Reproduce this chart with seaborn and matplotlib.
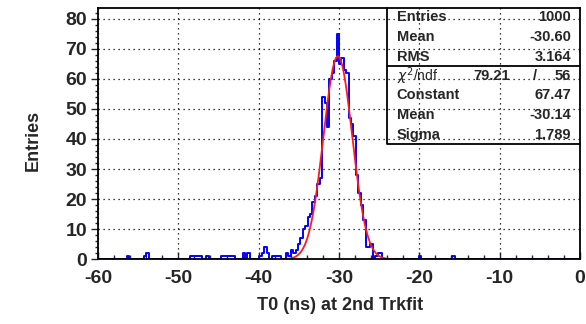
import matplotlib
matplotlib.use("Agg")
import matplotlib.pyplot as plt
import numpy as np
import pandas as pd
import seaborn as sns
from matplotlib.ticker import MultipleLocator

# histogram: 200 bins of 0.3 ns from -60 to 0, only filled bins listed (bin centres)
t0_centers = [
    -56.25, -54.15, -53.85, -48.45, -48.15, -47.85, -47.55, -47.25, -46.35,
    -44.55, -44.25, -43.95, -43.65, -43.35, -43.05, -41.85, -41.25,
    -39.75, -39.45, -39.15, -38.85, -38.25, -37.95, -37.65, -37.35,
    -36.45, -36.15, -35.85, -35.55, -35.25, -34.95, -34.65, -34.35, -34.05,
    -33.75, -33.45, -33.15, -32.85, -32.55, -32.25, -31.95, -31.65, -31.35,
    -31.05, -30.75, -30.45, -30.15, -29.85, -29.55, -29.25, -28.95, -28.65,
    -28.35, -28.05, -27.75, -27.45, -27.15, -26.85, -26.55, -26.25, -25.95,
    -25.35, -25.05, -24.75, -19.95, -15.75,
]
t0_counts = [
    1, 1, 2, 1, 1, 1, 1, 1, 1,
    1, 1, 1, 1, 1, 1, 2, 2,
    1, 2, 4, 2, 1, 1, 1, 1,
    2, 1, 3, 2, 3, 5, 7, 10, 11,
    14, 15, 19, 21, 25, 27, 54, 52, 44,
    60, 62, 66, 75, 65, 67, 63, 62, 47,
    45, 41, 28, 22, 18, 13, 4, 4, 5,
    1, 2, 2, 1, 1,
]

# gaussian fit results shown in the stat box
fit_const = 67.47
fit_mean = -30.14
fit_sigma = 1.789
fit_range = (-37.2, -23.1)

stats_upper = [("Entries", "1000"), ("Mean", "-30.60"), ("RMS", "3.164")]
stats_lower = [("Constant", "67.47"), ("Mean", "-30.14"), ("Sigma", "1.789")]
chi2_val, ndf_val = "79.21", "56"

W, H = 586, 324
sns.set_theme(style="ticks")
plt.rcParams["font.family"] = ["Liberation Sans", "DejaVu Sans"]
plt.rcParams["axes.unicode_minus"] = False

fig = plt.figure(figsize=(W / 100, H / 100), dpi=100)
ax_l, ax_r, ax_t, ax_b = 98, 580, 8.3, 259.3
ax = fig.add_axes([ax_l / W, 1 - ax_b / H, (ax_r - ax_l) / W, (ax_b - ax_t) / H])

hist_df = pd.DataFrame({"t0": t0_centers, "n": t0_counts})
sns.histplot(data=hist_df, x="t0", weights="n", bins=200, binrange=(-60, 0),
             element="step", fill=False, color="#0000ff", linewidth=1.4,
             ax=ax, zorder=2)

fx = np.linspace(fit_range[0], fit_range[1], 300)
fy = fit_const * np.exp(-0.5 * ((fx - fit_mean) / fit_sigma) ** 2)
sns.lineplot(x=fx, y=fy, color="#ff1a1a", linewidth=1.3, ax=ax, zorder=2.2)

ax.set_xlim(-60, 0)
ax.set_ylim(0, 83.4)
ax.xaxis.set_major_locator(MultipleLocator(10))
ax.xaxis.set_minor_locator(MultipleLocator(2))
ax.yaxis.set_major_locator(MultipleLocator(10))
ax.yaxis.set_minor_locator(MultipleLocator(2))
ax.grid(True, which="major", color="black", linestyle=(0, (1, 3)), linewidth=0.9)
ax.set_axisbelow(True)
for s in ax.spines.values():
    s.set_visible(True)
    s.set_linewidth(1.3)
    s.set_color("black")
    s.set_zorder(3)

ax.tick_params(axis="x", which="major", direction="in", length=5, width=1, pad=8,
               labelsize=14)
ax.tick_params(axis="x", which="minor", direction="in", length=3, width=1)
ax.tick_params(axis="y", which="major", direction="out", length=5, width=1, pad=3,
               labelsize=14)
ax.tick_params(axis="y", which="minor", direction="out", length=2.5, width=1)
for lab in ax.get_xticklabels() + ax.get_yticklabels():
    lab.set_fontweight("bold")

ax.set_xlabel("")
ax.set_ylabel("")
fig.text(340 / W, 1 - 305 / H, "T0 (ns) at 2nd Trkfit", ha="center", va="center",
         fontsize=13, fontweight="bold")
fig.text(33 / W, 1 - 140 / H, "Entries", ha="center", va="center",
         rotation=90, fontsize=13, fontweight="bold")

# stat box (transparent, grid shows through)
bx_l, bx_b, bx_sep = 386.7, 144, 65.7
ax_w, ax_h = ax_r - ax_l, ax_b - ax_t
def ax_frac(px, py):
    return (px - ax_l) / ax_w, (ax_b - py) / ax_h
x0, y0 = ax_frac(bx_l, bx_b)
_, ysep = ax_frac(bx_l, bx_sep)
ax.plot([x0, x0, 1], [1, y0, y0], color="black", linewidth=1.3,
        transform=ax.transAxes, clip_on=False, zorder=5)
ax.plot([x0, 1], [ysep, ysep], color="black", linewidth=1.3,
        transform=ax.transAxes, clip_on=False, zorder=5)

txt_l, txt_r = 396.7, 571
rows_upper = [16.7, 36.7, 56.7]
rows_lower = [95, 115, 135]
for (name, val), py in zip(stats_upper + stats_lower, rows_upper + rows_lower):
    fig.text(txt_l / W, 1 - py / H, name, ha="left", va="center",
             fontsize=10.5, fontweight="bold")
    fig.text(txt_r / W, 1 - py / H, val, ha="right", va="center",
             fontsize=10.5, fontweight="bold")
fig.text(txt_l / W, 1 - 76 / H, r"$\chi^2$/ndf", ha="left", va="center", fontsize=10)
fig.text(510 / W, 1 - 76 / H, chi2_val, ha="right", va="center", fontsize=10.5,
         fontweight="bold")
fig.text(535 / W, 1 - 76 / H, "/", ha="center", va="center", fontsize=10.5,
         fontweight="bold")
fig.text(txt_r / W, 1 - 76 / H, ndf_val, ha="right", va="center", fontsize=10.5,
         fontweight="bold")

fig.savefig("out.png", dpi=100, facecolor="white")
